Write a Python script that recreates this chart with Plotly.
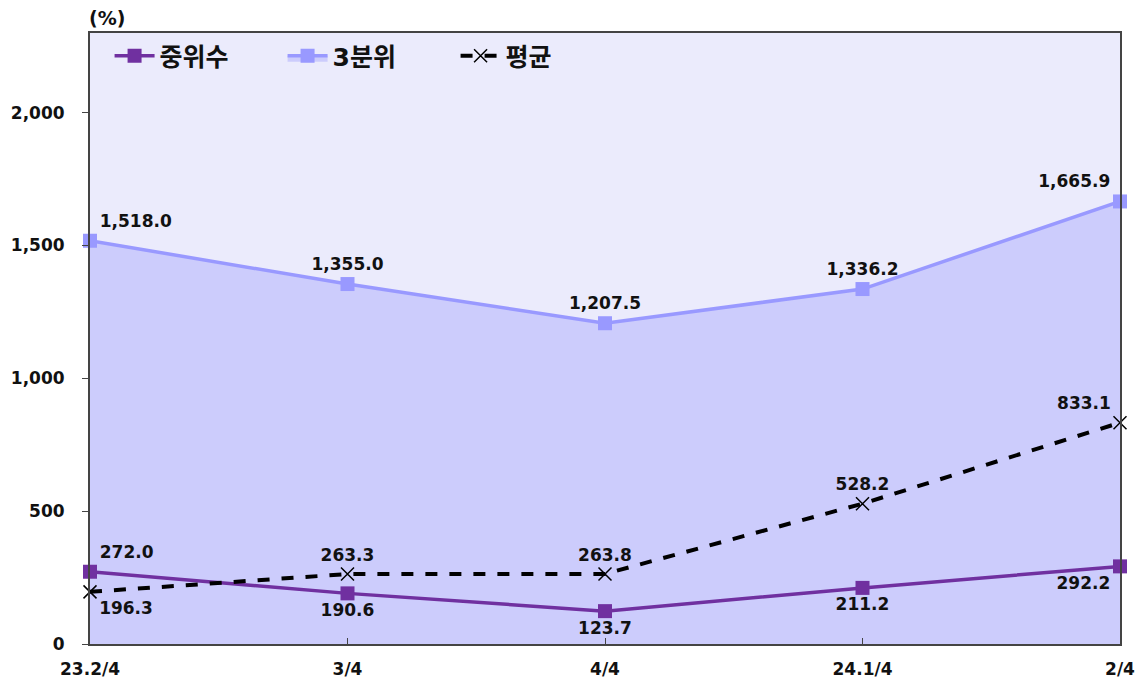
import plotly.graph_objects as go

# quarters and series values (%)
quarters = ["23.2/4", "3/4", "4/4", "24.1/4", "2/4"]
median_vals = [272.0, 190.6, 123.7, 211.2, 292.2]
q3_vals = [1518.0, 1355.0, 1207.5, 1336.2, 1665.9]
mean_vals = [196.3, 263.3, 263.8, 528.2, 833.1]

y_ticks = [0, 500, 1000, 1500, 2000]

median_pos = ["top right", "bottom center", "bottom center", "bottom center", "bottom left"]
q3_pos = ["top right", "top center", "top center", "top center", "top left"]
mean_pos = ["bottom right", "top center", "top center", "top center", "top left"]

font_family = "DejaVu Sans, Noto Sans CJK KR, sans-serif"
label_font = dict(family=font_family, size=17, color="#111111", weight="bold")

fig = go.Figure()

# 3rd quartile with filled area underneath
fig.add_trace(go.Scatter(
    x=quarters, y=q3_vals, name="3분위",
    mode="lines+markers+text",
    line=dict(color="#9999FF", width=3.5),
    marker=dict(symbol="square", size=14, color="#9999FF"),
    fill="tozeroy", fillcolor="#CCCCFC",
    text=[f"{v:,.1f}" for v in q3_vals],
    textposition=q3_pos, textfont=label_font,
    cliponaxis=False, legendrank=2,
))

fig.add_trace(go.Scatter(
    x=quarters, y=median_vals, name="중위수",
    mode="lines+markers+text",
    line=dict(color="#7030A0", width=3.5),
    marker=dict(symbol="square", size=14, color="#7030A0"),
    text=[f"{v:,.1f}" for v in median_vals],
    textposition=median_pos, textfont=label_font,
    cliponaxis=False, legendrank=1,
))

fig.add_trace(go.Scatter(
    x=quarters, y=mean_vals, name="평균",
    mode="lines+markers+text",
    line=dict(color="black", width=4, dash="dash"),
    marker=dict(symbol="x-thin", size=13, line=dict(color="black", width=1.5)),
    text=[f"{v:,.1f}" for v in mean_vals],
    textposition=mean_pos, textfont=label_font,
    cliponaxis=False, legendrank=3,
))

# page body has an 8px margin, so the figure is a bit smaller than the window
fig.update_layout(
    width=1136, height=680,
    margin=dict(l=82, r=24, t=25, b=44),
    paper_bgcolor="white",
    plot_bgcolor="#EBEBFC",
    font=dict(family=font_family, size=17, color="#111111"),
    showlegend=True,
    legend=dict(
        orientation="h", x=0.019, y=1.0, xanchor="left", yanchor="top",
        bgcolor="rgba(0,0,0,0)",
        font=dict(family=font_family, size=25, color="#111111", weight="bold"),
        entrywidth=118, itemwidth=40,
    ),
    annotations=[dict(
        text="<b>(%)</b>", xref="paper", yref="paper", x=-0.003, y=1.0,
        xanchor="left", yanchor="bottom", showarrow=False,
        font=dict(family=font_family, size=19, color="#111111"),
        yshift=2,
    )],
)

fig.update_xaxes(
    type="category", range=[0, 4], automargin=False,
    showgrid=False, showline=True, linecolor="#444444", linewidth=2,
    mirror=True, ticks="inside", ticklen=6, tickcolor="#444444",
    tickfont=dict(family=font_family, size=17, color="#111111", weight="bold"),
    ticklabelstandoff=9,
)
fig.update_yaxes(
    range=[0, 2300], tickvals=y_ticks, ticktext=[f"{v:,}" for v in y_ticks],
    automargin=False,
    showgrid=False, showline=True, linecolor="#444444", linewidth=2,
    mirror=True, ticks="outside", ticklen=6, tickcolor="#444444",
    tickfont=dict(family=font_family, size=17, color="#111111", weight="bold"),
    ticklabelstandoff=14, zeroline=False,
)

fig.write_html("out.html")
